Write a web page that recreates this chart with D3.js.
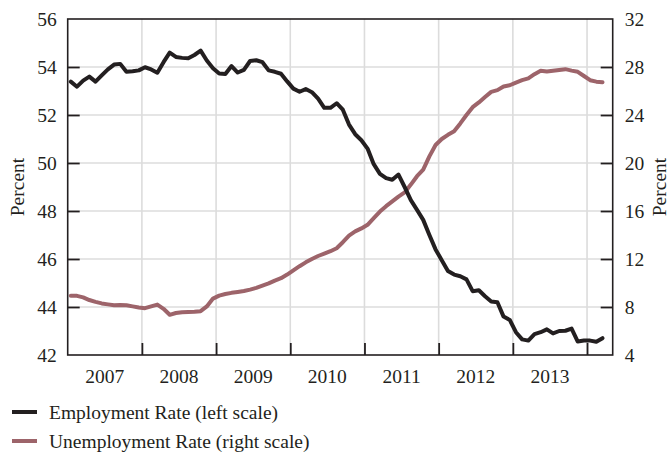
<!DOCTYPE html>
<html><head><meta charset="utf-8">
<script src="https://cdn.jsdelivr.net/npm/d3@7"></script>
<style>body{margin:0;background:#fff}svg{display:block}text{font-family:"Liberation Serif","DejaVu Serif",serif;fill:#231f20}</style>
</head><body><svg id="c" width="670" height="455"></svg>
<script>
// Monthly data, Jan 2007 - Mar 2014
const startYear = 2007;
const employment = [53.39,53.18,53.43,53.6,53.39,53.65,53.9,54.1,54.13,53.8,53.82,53.86,
53.99,53.9,53.76,54.2,54.6,54.42,54.38,54.36,54.5,54.68,54.27,53.95,
53.73,53.71,54.04,53.77,53.88,54.25,54.28,54.2,53.86,53.8,53.72,53.4,
53.1,52.97,53.08,52.95,52.68,52.3,52.3,52.49,52.22,51.6,51.2,50.95,
50.6,49.95,49.55,49.37,49.3,49.52,49.0,48.45,48.05,47.63,47.0,46.4,
45.95,45.5,45.35,45.28,45.15,44.66,44.7,44.45,44.23,44.2,43.6,43.46,
42.95,42.65,42.6,42.87,42.95,43.07,42.9,43.0,43.01,43.1,42.56,42.6,
42.6,42.55,42.7];
const unemployment = [8.94,8.93,8.8,8.58,8.43,8.3,8.22,8.14,8.17,8.15,8.05,7.96,
7.9,8.05,8.2,7.85,7.35,7.5,7.57,7.58,7.6,7.65,8.05,8.7,
8.95,9.08,9.18,9.25,9.33,9.45,9.6,9.78,9.97,10.2,10.4,10.7,
11.05,11.4,11.72,12.0,12.25,12.45,12.65,12.9,13.4,13.95,14.3,14.55,
14.85,15.4,15.95,16.4,16.8,17.2,17.55,18.2,18.9,19.45,20.55,21.5,
22.0,22.35,22.65,23.3,24.0,24.65,25.05,25.5,25.93,26.07,26.38,26.48,
26.7,26.9,27.05,27.4,27.68,27.62,27.68,27.75,27.82,27.7,27.6,27.25,
26.9,26.78,26.72];
const yearLabels = ["2007","2008","2009","2010","2011","2012","2013"];
const leftTicks = [42,44,46,48,50,52,54,56];
const rightTicks = [4,8,12,16,20,24,28,32];
const seriesNames = ["Employment Rate (left scale)","Unemployment Rate (right scale)"];
const colors = ["#231f20","#9d646a"];

const L=67.7, R=612.7, T=19, B=355;
const FS = "19.5px";
const svg = d3.select("#c");
const x = d3.scaleLinear().domain([2007, 2014 + 4.15/12]).range([L,R]);
const yL = d3.scaleLinear().domain([42,56]).range([B,T]);
const yR = d3.scaleLinear().domain([4,32]).range([B,T]);
const tOf = i => startYear + (i+0.5)/12;

// gridlines
const g = svg.append("g");
const yearBounds = d3.range(2008, 2015);
g.selectAll("line.v").data(yearBounds).join("line")
  .attr("x1",d=>x(d)).attr("x2",d=>x(d)).attr("y1",T).attr("y2",B)
  .attr("stroke","#dcdcdc").attr("stroke-width",1.6);
g.selectAll("line.h").data(leftTicks.slice(1,-1)).join("line")
  .attr("x1",L).attr("x2",R).attr("y1",d=>yL(d)).attr("y2",d=>yL(d))
  .attr("stroke","#dcdcdc").attr("stroke-width",1.6);

// lines
const lineL = d3.line().x((d,i)=>x(tOf(i))).y(d=>yL(d)).curve(d3.curveLinear);
const lineR = d3.line().x((d,i)=>x(tOf(i))).y(d=>yR(d)).curve(d3.curveLinear);
svg.append("path").datum(unemployment).attr("d",lineR).attr("fill","none")
  .attr("stroke",colors[1]).attr("stroke-width",4).attr("stroke-linejoin","round").attr("stroke-linecap","round");
svg.append("path").datum(employment).attr("d",lineL).attr("fill","none")
  .attr("stroke",colors[0]).attr("stroke-width",4).attr("stroke-linejoin","round").attr("stroke-linecap","round");

// frame
svg.append("rect").attr("x",L).attr("y",T).attr("width",R-L).attr("height",B-T)
  .attr("fill","none").attr("stroke","#231f20").attr("stroke-width",1.6);

// axes
const axL = svg.append("g").attr("transform",`translate(${L},0)`)
  .call(d3.axisLeft(yL).tickValues(leftTicks).tickSize(-12).tickPadding(11).tickFormat(d3.format("d")));
const axR = svg.append("g").attr("transform",`translate(${R},0)`)
  .call(d3.axisRight(yR).tickValues(rightTicks).tickSize(-12).tickPadding(12).tickFormat(d3.format("d")));
const axB = svg.append("g").attr("transform",`translate(0,${B})`)
  .call(d3.axisBottom(x).tickValues(yearBounds).tickSize(-12).tickFormat(""));
[axL,axR,axB].forEach(a=>{
  a.select(".domain").remove();
  a.selectAll(".tick line").attr("stroke","#231f20").attr("stroke-width",1.8);
  a.selectAll("text").style("font-family",'"Liberation Serif",serif').style("font-size",FS).attr("fill","#231f20");
});
axL.selectAll(".tick").filter(d=>d===42||d===56).select("line").remove();
axR.selectAll(".tick").filter(d=>d===4||d===32).select("line").remove();

// year labels
svg.append("g").selectAll("text").data(yearLabels).join("text")
  .attr("x",d=>x(+d+0.5)).attr("y",383).attr("text-anchor","middle")
  .style("font-size",FS).text(d=>d);

// axis titles
svg.append("text").attr("transform","translate(24,187) rotate(-90)").attr("text-anchor","middle")
  .style("font-size",FS).text("Percent");
svg.append("text").attr("transform","translate(666,187) rotate(-90)").attr("text-anchor","middle")
  .style("font-size",FS).text("Percent");

// legend
const lg = svg.append("g").selectAll("g").data(seriesNames).join("g")
  .attr("transform",(d,i)=>`translate(12,${412+i*29})`);
lg.append("line").attr("x1",0).attr("x2",25).attr("y1",0).attr("y2",0)
  .attr("stroke",(d,i)=>colors[i]).attr("stroke-width",4);
lg.append("text").attr("x",37).attr("y",7).style("font-size",FS).text(d=>d);
</script></body></html>
